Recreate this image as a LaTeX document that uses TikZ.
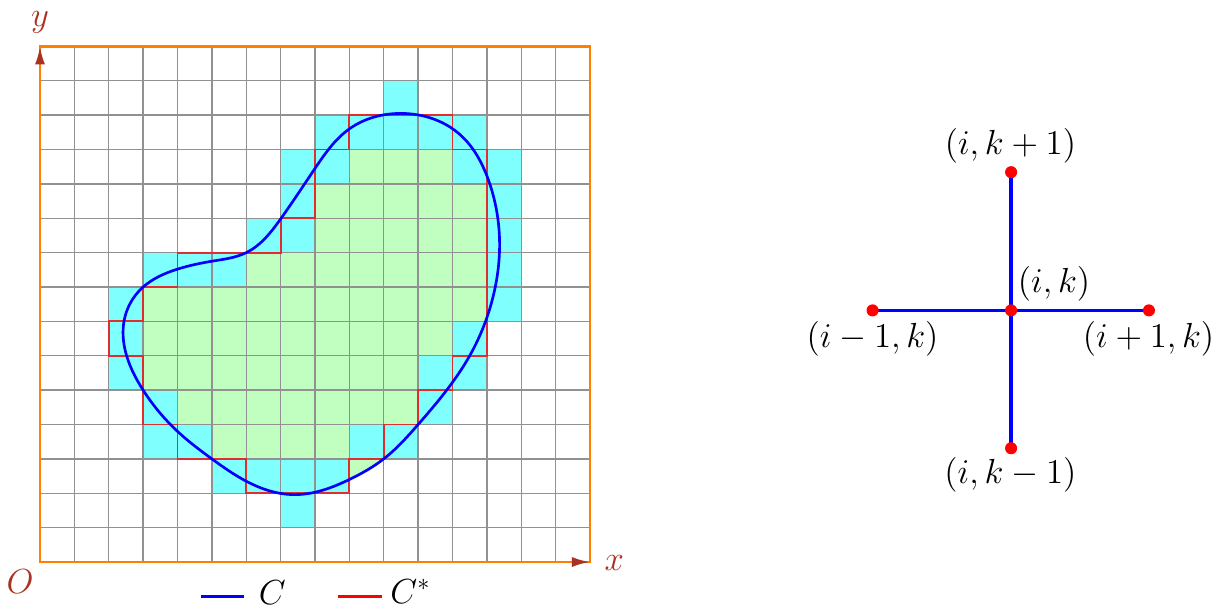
\documentclass[tikz,border=0pt]{standalone}
\usetikzlibrary{arrows.meta,hobby}
\definecolor{cellcyan}{RGB}{128,255,255}
\definecolor{cellgreen}{RGB}{192,255,192}
\definecolor{gridgray}{RGB}{145,145,145}
\definecolor{frameorange}{RGB}{255,128,0}
\definecolor{axred}{RGB}{170,50,35}
\definecolor{cstar}{RGB}{225,45,45}
\begin{document}
\begin{tikzpicture}[x=0.5cm,y=0.5cm,font=\Large,
  axlabel/.style={text=axred,inner sep=0pt},
  gridline/.style={gridgray,line width=0.6pt},
  cstarline/.style={cstar,line width=0.8pt},
  cline/.style={blue,line width=1.1pt},
  armline/.style={blue,line width=1.4pt},
  dot/.style={circle,fill=red,inner sep=0pt,minimum size=5pt},
  ptlabel/.style={inner sep=0pt},
  axtip/.style={-{Latex[length=7.5pt,width=4.2pt,color=axred]}}]
\useasboundingbox (-1.1636,-1.3382) rectangle (34.1818,16.3491);
% interior cells
\fill[cellgreen] (9,11) rectangle (12,12) (8,9) rectangle (13,11)
  (6,8) rectangle (13,9) (3,7) rectangle (13,8) (3,6) rectangle (12,7)
  (3,5) rectangle (11,6) (4,4) rectangle (11,5) (5,3) rectangle (9,4);
\begin{scope}
\clip (9,2) rectangle (10,3);
\fill[cellgreen,use Hobby shortcut,closed=true] (7.4,1.96) .. (9,2.4) .. (10,3) .. (11,4) .. (12.5,6) .. (13.2,7.8) .. (13.37,9.3) .. (13.05,11.1) .. (12.2,12.45) .. (10.5,13.05) .. (9,12.6) .. (8,11.45) .. (7,9.98) .. (6,9) .. (5,8.75) .. (4,8.52) .. (3,8) .. (2.6,7.48) .. (2.42,6.8) .. (2.52,6) .. (3,5) .. (4,3.8) .. (5,3) .. (6,2.35);
\end{scope}
% boundary cells
\foreach \i/\j in {10/13, 8/12, 9/12, 10/12, 11/12, 12/12, 7/11, 8/11, 12/11, 13/11,
  7/10, 13/10, 6/9, 7/9, 13/9, 3/8, 4/8, 5/8, 13/8, 2/7, 13/7, 2/6, 12/6,
  2/5, 11/5, 12/5, 3/4, 11/4, 3/3, 4/3, 9/3, 10/3, 5/2, 6/2, 7/2, 8/2, 7/1}
  \fill[cellcyan] (\i,\j) rectangle ++(1,1);
% grid
\draw[gridline,step=0.5cm] (0,0) grid (16,15);
% C*
\draw[cstarline] (6,2) -- (9,2) -- (9,3) -- (10,3) -- (10,4) -- (11,4) -- (11,5) -- (12,5)
  -- (12,6) -- (13,6) -- (13,12) -- (12,12) -- (12,13) -- (9,13) -- (9,12) -- (8,12)
  -- (8,10) -- (7,10) -- (7,9) -- (4,9) -- (4,8) -- (3,8) -- (3,7) -- (2,7) -- (2,6)
  -- (3,6) -- (3,4) -- (4,4) -- (4,3) -- (6,3) -- cycle;
% C
\draw[cline,use Hobby shortcut,closed=true] (7.4,1.96) .. (9,2.4) .. (10,3) .. (11,4) .. (12.5,6) .. (13.2,7.8) .. (13.37,9.3) .. (13.05,11.1) .. (12.2,12.45) .. (10.5,13.05) .. (9,12.6) .. (8,11.45) .. (7,9.98) .. (6,9) .. (5,8.75) .. (4,8.52) .. (3,8) .. (2.6,7.48) .. (2.42,6.8) .. (2.52,6) .. (3,5) .. (4,3.8) .. (5,3) .. (6,2.35);
% frame and axes
\draw[frameorange,line width=1pt] (0,0) rectangle (16,15);
\coordinate (orig) at (0,0);
\coordinate (xend) at (16,0);
\coordinate (yend) at (0,15);
\draw[frameorange,line width=1pt,axtip] (orig) -- (xend);
\draw[frameorange,line width=1pt,axtip] (orig) -- (yend);
\node[axlabel] (xlab) at (16.71,-0.03) {$x$};
\node[axlabel] (ylab) at (0,15.69) {$y$};
\node[axlabel] (olab) at (-0.58,-0.57) {$O$};
% legend
\coordinate (lc1) at (4.68,-1.0);
\coordinate (lc2) at (5.93,-1.0);
\coordinate (ls1) at (8.67,-1.0);
\coordinate (ls2) at (9.95,-1.0);
\draw[blue,line width=1.1pt] (lc1) -- (lc2);
\draw[red,line width=1.1pt] (ls1) -- (ls2);
\node[ptlabel] (legC) at (6.76,-0.88) {$C$};
\node[ptlabel] (legCs) at (10.78,-0.86) {$C^{*}$};
% stencil
\coordinate (pc) at (28.25,7.32);
\coordinate (pt) at (28.25,11.34);
\coordinate (pb) at (28.25,3.31);
\coordinate (pl) at (24.22,7.32);
\coordinate (pr) at (32.26,7.32);
\draw[armline] (pl) -- (pr);
\draw[armline] (pt) -- (pb);
\node[dot] (dc) at (pc) {};
\node[dot] (dt) at (pt) {};
\node[dot] (db) at (pb) {};
\node[dot] (dl) at (pl) {};
\node[dot] (dr) at (pr) {};
\node[ptlabel] (lc) at (29.5,8.09) {$(i,k)$};
\node[ptlabel] (ll) at (24.22,6.49) {$(i-1,k)$};
\node[ptlabel] (lr) at (32.25,6.49) {$(i+1,k)$};
\node[ptlabel] (lt) at (28.23,12.12) {$(i,k+1)$};
\node[ptlabel] (lb) at (28.23,2.53) {$(i,k-1)$};
\end{tikzpicture}
\end{document}
